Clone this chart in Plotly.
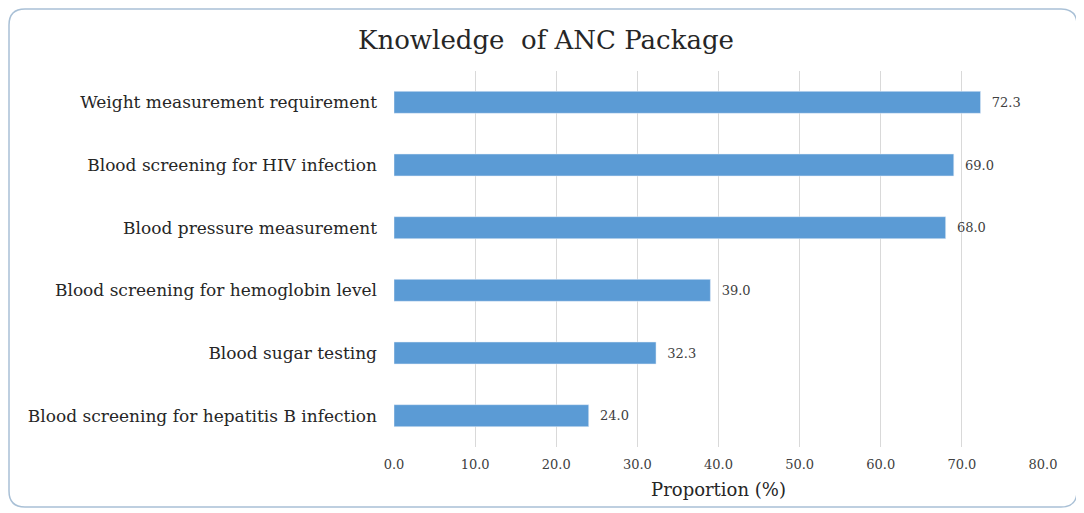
import plotly.graph_objects as go

categories = [
    "Weight measurement requirement",
    "Blood screening for HIV infection",
    "Blood pressure measurement",
    "Blood screening for hemoglobin level",
    "Blood sugar testing",
    "Blood screening for hepatitis B infection",
]
proportions = [72.3, 69.0, 68.0, 39.0, 32.3, 24.0]
tick_values = [0, 10, 20, 30, 40, 50, 60, 70, 80]
tick_labels = ["0.0", "10.0", "20.0", "30.0", "40.0", "50.0", "60.0", "70.0", "80.0"]

# page body has an 8px margin, so the figure is sized to end at the window edge
W, H = 1076, 505
ml, mr, mt, mb = 386, 41, 63, 66
font = "DejaVu Serif, Liberation Serif, serif"

fig = go.Figure(
    go.Bar(
        x=proportions,
        y=categories,
        orientation="h",
        marker_color="#5B9BD5",
        width=0.35,
        texttemplate="  %{x:.1f}",
        textposition="outside",
        textfont=dict(family=font, size=13, color="#404040"),
        cliponaxis=False,
    )
)

# rounded frame around the whole chart, drawn in paper coordinates
pw, ph = W - ml - mr, H - mt - mb
def px(x):
    return (x - ml) / pw
def py(y):
    return 1 - (y - mt) / ph
x0, x1, y0, y1, r = 1, 1069, 1, 499, 16
path = (
    f"M {px(x0 + r)},{py(y0)} L {px(x1 - r)},{py(y0)} "
    f"Q {px(x1)},{py(y0)} {px(x1)},{py(y0 + r)} L {px(x1)},{py(y1 - r)} "
    f"Q {px(x1)},{py(y1)} {px(x1 - r)},{py(y1)} L {px(x0 + r)},{py(y1)} "
    f"Q {px(x0)},{py(y1)} {px(x0)},{py(y1 - r)} L {px(x0)},{py(y0 + r)} "
    f"Q {px(x0)},{py(y0)} {px(x0 + r)},{py(y0)} Z"
)

fig.update_layout(
    width=W,
    height=H,
    margin=dict(l=ml, r=mr, t=mt, b=mb),
    paper_bgcolor="white",
    plot_bgcolor="white",
    showlegend=False,
    title=dict(
        text="Knowledge  of ANC Package",
        x=538 / W, xanchor="center", xref="container",
        y=1 - 32 / H, yanchor="middle",
        font=dict(family=font, size=26, color="#262626"),
    ),
    shapes=[dict(type="path", xref="paper", yref="paper", path=path,
                 line=dict(color="#A9C0D6", width=1.5), layer="below")],
    xaxis=dict(
        range=[0, 80],
        tickvals=tick_values,
        ticktext=tick_labels,
        showgrid=True,
        gridcolor="#D9D9D9",
        zeroline=False,
        showline=False,
        ticks="",
        ticklabelstandoff=8,
        tickfont=dict(family=font, size=13, color="#404040"),
        title=dict(text="Proportion (%)", standoff=12,
                   font=dict(family=font, size=18, color="#262626")),
    ),
    yaxis=dict(
        autorange="reversed",
        showgrid=False,
        showline=False,
        ticks="",
        ticklabelstandoff=16,
        tickfont=dict(family=font, size=17, color="#262626"),
    ),
)

fig.write_html("out.html")
